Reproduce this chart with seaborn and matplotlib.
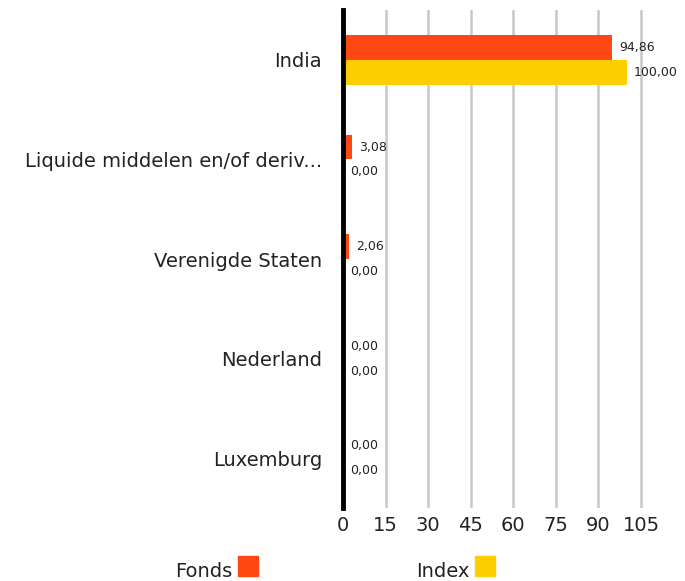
import matplotlib
matplotlib.use("Agg")
import matplotlib.pyplot as plt
import seaborn as sns
import pandas as pd

categories = ["India", "Liquide middelen en/of deriv...", "Verenigde Staten", "Nederland", "Luxemburg"]
fonds = [94.86, 3.08, 2.06, 0.00, 0.00]
index = [100.00, 0.00, 0.00, 0.00, 0.00]
series = ["Fonds", "Index"]
colors = ["#FF4713", "#FFCE00"]
xticks = [0, 15, 30, 45, 60, 75, 90, 105]

df = pd.DataFrame({
    "land": categories * 2,
    "waarde": fonds + index,
    "reeks": ["Fonds"] * len(categories) + ["Index"] * len(categories),
})

sns.set_style("white")
plt.rcParams["font.family"] = ["DejaVu Sans"]

fig = plt.figure(figsize=(6.85, 5.81), dpi=100)
ax = fig.add_axes([0.5007, 0.1256, 0.4557, 0.857])

sns.barplot(data=df, x="waarde", y="land", hue="reeks", order=categories,
            hue_order=series, palette=colors, orient="h", width=0.5,
            saturation=1, linewidth=0, ax=ax, legend=False, zorder=3)

for bars, vals in zip(ax.containers, [fonds, index]):
    for bar, v in zip(bars, vals):
        y = bar.get_y() + bar.get_height() / 2
        ax.annotate(f"{v:.2f}".replace(".", ","), (bar.get_width(), y),
                    xytext=(5, 0), textcoords="offset points",
                    va="center", ha="left", fontsize=9, color="#222222", zorder=4)

ax.set_xlim(0, 110)
ax.set_xticks(xticks)
ax.set_xlabel("")
ax.set_ylabel("")
ax.grid(axis="x", color="#c8c8c8", linewidth=1.8, zorder=0)
ax.set_axisbelow(True)
for s in ["top", "right", "bottom"]:
    ax.spines[s].set_visible(False)
ax.spines["left"].set_linewidth(3.5)
ax.spines["left"].set_color("black")
ax.spines["left"].set_zorder(5)
ax.tick_params(axis="x", length=5, width=1.8, color="#c8c8c8", labelsize=14, pad=1, labelcolor="#222222")
ax.tick_params(axis="y", length=0, labelsize=14, pad=15, labelcolor="#222222")

# legend below the plot: text followed by a coloured square
fig.text(232 / 685, 1 - 577 / 581, "Fonds", fontsize=14, ha="right", va="baseline", color="#222222")
fig.patches.append(plt.Rectangle((238 / 685, 1 - 576 / 581), 20 / 685, 20 / 581,
                                 transform=fig.transFigure, color=colors[0], figure=fig))
fig.text(469 / 685, 1 - 577 / 581, "Index", fontsize=14, ha="right", va="baseline", color="#222222")
fig.patches.append(plt.Rectangle((475 / 685, 1 - 576 / 581), 20 / 685, 20 / 581,
                                 transform=fig.transFigure, color=colors[1], figure=fig))

fig.savefig("out.png", dpi=100)
